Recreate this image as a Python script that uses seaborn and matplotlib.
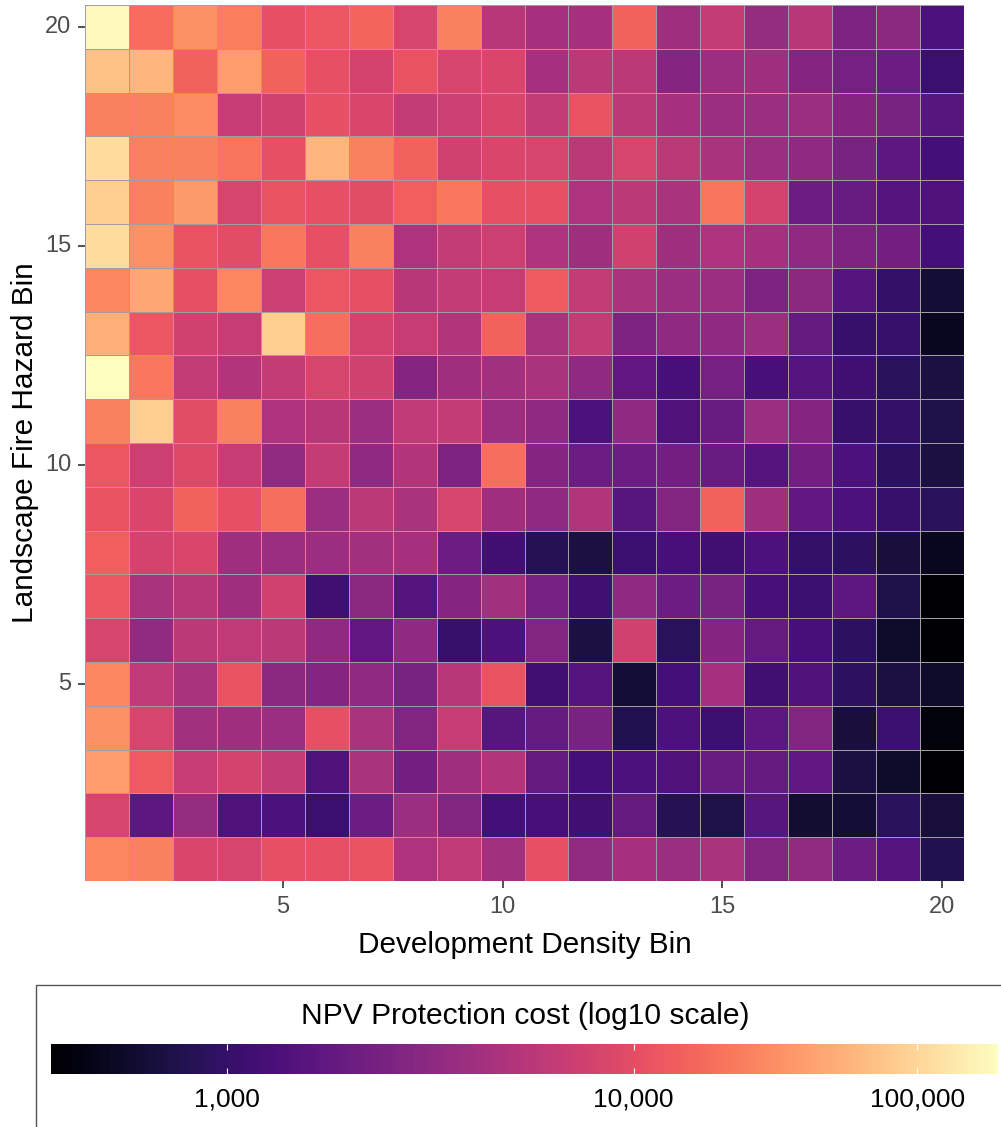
import matplotlib
matplotlib.use("Agg")
import matplotlib.pyplot as plt
import numpy as np
import pandas as pd
import seaborn as sns
from matplotlib.colors import FuncNorm
from matplotlib.patches import Rectangle

# log10 of NPV protection cost, one list per fire hazard bin, development bins 1-20
hazard_20 = [5.35, 4.21, 4.45, 4.33, 4.02, 4.08, 4.18, 3.91, 4.36, 3.70, 3.60, 3.60, 4.16, 3.56, 3.78, 3.51, 3.70, 3.37, 3.45, 3.11]
hazard_19 = [4.81, 4.73, 4.16, 4.55, 4.16, 4.02, 3.88, 4.04, 3.91, 3.93, 3.60, 3.73, 3.73, 3.42, 3.54, 3.56, 3.42, 3.33, 3.28, 3.03]
hazard_18 = [4.36, 4.36, 4.42, 3.80, 3.86, 4.02, 3.93, 3.78, 3.83, 3.93, 3.78, 4.04, 3.73, 3.60, 3.54, 3.54, 3.54, 3.42, 3.35, 3.17]
hazard_17 = [5.05, 4.36, 4.36, 4.27, 4.02, 4.73, 4.36, 4.16, 3.86, 3.93, 3.91, 3.73, 3.91, 3.73, 3.63, 3.54, 3.47, 3.35, 3.20, 3.07]
hazard_16 = [4.93, 4.36, 4.52, 3.91, 4.04, 4.02, 3.99, 4.13, 4.30, 4.02, 4.02, 3.65, 3.73, 3.63, 4.27, 3.88, 3.28, 3.26, 3.15, 3.13]
hazard_15 = [5.05, 4.45, 4.04, 3.99, 4.30, 4.02, 4.36, 3.65, 3.78, 3.83, 3.65, 3.56, 3.86, 3.56, 3.65, 3.60, 3.47, 3.37, 3.31, 3.07]
hazard_14 = [4.39, 4.62, 4.02, 4.39, 3.83, 4.07, 4.02, 3.70, 3.78, 3.80, 4.10, 3.78, 3.63, 3.54, 3.54, 3.37, 3.45, 3.15, 2.99, 2.83]
hazard_13 = [4.69, 4.07, 3.86, 3.80, 4.93, 4.24, 3.88, 3.80, 3.68, 4.16, 3.63, 3.78, 3.37, 3.47, 3.47, 3.54, 3.24, 3.01, 3.01, 2.75]
hazard_12 = [5.41, 4.30, 3.78, 3.68, 3.78, 3.91, 3.86, 3.42, 3.56, 3.58, 3.63, 3.47, 3.22, 3.09, 3.33, 3.09, 3.15, 3.05, 2.95, 2.87]
hazard_11 = [4.36, 4.93, 3.99, 4.36, 3.65, 3.70, 3.54, 3.75, 3.78, 3.54, 3.47, 3.11, 3.47, 3.13, 3.26, 3.54, 3.42, 3.01, 2.99, 2.89]
hazard_10 = [4.07, 3.83, 3.96, 3.80, 3.49, 3.78, 3.47, 3.68, 3.37, 4.24, 3.42, 3.28, 3.28, 3.31, 3.26, 3.15, 3.31, 3.11, 2.97, 2.87]
hazard_09 = [4.04, 3.93, 4.16, 4.02, 4.24, 3.54, 3.73, 3.63, 3.91, 3.56, 3.47, 3.68, 3.17, 3.40, 4.16, 3.56, 3.22, 3.11, 3.01, 2.95]
hazard_08 = [4.13, 3.88, 3.93, 3.56, 3.54, 3.54, 3.58, 3.60, 3.28, 3.05, 2.93, 2.87, 3.03, 3.09, 3.05, 3.11, 2.99, 2.97, 2.85, 2.75]
hazard_07 = [4.07, 3.63, 3.70, 3.56, 3.86, 3.05, 3.45, 3.15, 3.42, 3.58, 3.33, 3.05, 3.47, 3.28, 3.35, 3.09, 3.03, 3.20, 2.89, 2.64]
hazard_06 = [3.91, 3.49, 3.73, 3.75, 3.73, 3.47, 3.22, 3.47, 3.01, 3.11, 3.40, 2.87, 3.86, 2.95, 3.42, 3.24, 3.09, 2.97, 2.79, 2.64]
hazard_05 = [4.39, 3.75, 3.63, 4.04, 3.45, 3.42, 3.47, 3.35, 3.70, 4.04, 3.05, 3.15, 2.83, 3.07, 3.60, 3.05, 3.13, 2.97, 2.87, 2.79]
hazard_04 = [4.45, 3.91, 3.58, 3.56, 3.54, 4.02, 3.63, 3.40, 3.80, 3.17, 3.24, 3.35, 2.91, 3.11, 3.03, 3.20, 3.40, 2.85, 3.03, 2.68]
hazard_03 = [4.55, 4.10, 3.80, 3.88, 3.78, 3.13, 3.63, 3.31, 3.56, 3.68, 3.24, 3.07, 3.11, 3.13, 3.26, 3.24, 3.22, 2.87, 2.79, 2.64]
hazard_02 = [3.91, 3.20, 3.51, 3.13, 3.11, 3.03, 3.28, 3.54, 3.40, 3.07, 3.09, 3.05, 3.24, 2.93, 2.89, 3.17, 2.81, 2.83, 2.95, 2.85]
hazard_01 = [4.39, 4.36, 3.93, 3.91, 4.02, 4.02, 4.04, 3.65, 3.75, 3.58, 4.02, 3.49, 3.60, 3.54, 3.63, 3.40, 3.49, 3.28, 3.15, 2.91]

density_bins = list(range(1, 21))
hazard_bins = list(range(20, 0, -1))
axis_ticks = [5, 10, 15, 20]
legend_ticks = [3, 4, 5]
legend_labels = ["1,000", "10,000", "100,000"]

W, H = 1001, 1127


def warp(v):
    # the legend is not evenly spaced in log10, bent to fit its tick positions
    d = np.asarray(v, dtype=float) - 4
    return 0.616 + 0.364 * d - 0.06475 * d * d


def unwarp(y):
    y = np.asarray(y, dtype=float)
    return 4 + (0.364 - np.sqrt(np.maximum(0.1325 - 0.259 * (y - 0.616), 0))) / 0.1295


def px_axes(fig, left, top, right, bottom):
    return fig.add_axes([left / W, 1 - bottom / H, (right - left) / W, (bottom - top) / H])


def main():
    sns.set_theme(style="white")
    plt.rcParams["font.family"] = ["Liberation Sans", "DejaVu Sans"]

    grid = pd.DataFrame(
        [hazard_20, hazard_19, hazard_18, hazard_17, hazard_16, hazard_15, hazard_14,
         hazard_13, hazard_12, hazard_11, hazard_10, hazard_09, hazard_08, hazard_07,
         hazard_06, hazard_05, hazard_04, hazard_03, hazard_02, hazard_01],
        index=hazard_bins, columns=density_bins)

    fig = plt.figure(figsize=(W / 100, H / 100), dpi=100, facecolor="white")
    ax = px_axes(fig, 85, 5, 964, 881)
    cax = px_axes(fig, 51, 1044, 998, 1074)

    norm = FuncNorm((warp, unwarp), vmin=2.64, vmax=5.41)
    sns.heatmap(grid, ax=ax, cmap="magma", norm=norm, linewidths=0.6, linecolor="#a39da3",
                cbar_ax=cax, cbar_kws={"orientation": "horizontal", "ticks": legend_ticks})

    ax.set_xticks([t - 0.5 for t in axis_ticks], [str(t) for t in axis_ticks], rotation=0)
    ax.set_yticks([hazard_bins.index(t) + 0.5 for t in axis_ticks], [str(t) for t in axis_ticks], rotation=0)
    ax.tick_params(axis="both", length=5, width=1.2, color="#333333", labelcolor="#4d4d4d",
                   labelsize=17, pad=4, bottom=True, left=True)
    ax.tick_params(axis="x", pad=6)
    ax.tick_params(axis="y", pad=5)
    ax.set_xlabel("Development Density Bin", fontsize=21.4, color="black", labelpad=9)
    ax.set_ylabel("Landscape Fire Hazard Bin", fontsize=21.4, color="black", labelpad=4)

    # legend box runs off the right and bottom of the picture
    fig.add_artist(Rectangle((36 / W, -0.1), 1.1, 0.1 + 1 - 985 / H, transform=fig.transFigure,
                             fill=False, edgecolor="#555555", linewidth=1.0, zorder=0))
    fig.text(525 / W, 1 - 1016 / H, "NPV Protection cost (log10 scale)", ha="center", va="center",
             fontsize=21.6, color="black")

    cax.set_xticks(legend_ticks, legend_labels)
    cax.minorticks_off()
    cax.tick_params(axis="x", length=0, labelsize=19, labelcolor="black", pad=10)
    cax.vlines(legend_ticks, 0, 0.2, color="white", linewidth=0.8)
    cax.vlines(legend_ticks, 0.8, 1, color="white", linewidth=0.8)

    fig.savefig("out.png", dpi=100)


if __name__ == "__main__":
    main()
